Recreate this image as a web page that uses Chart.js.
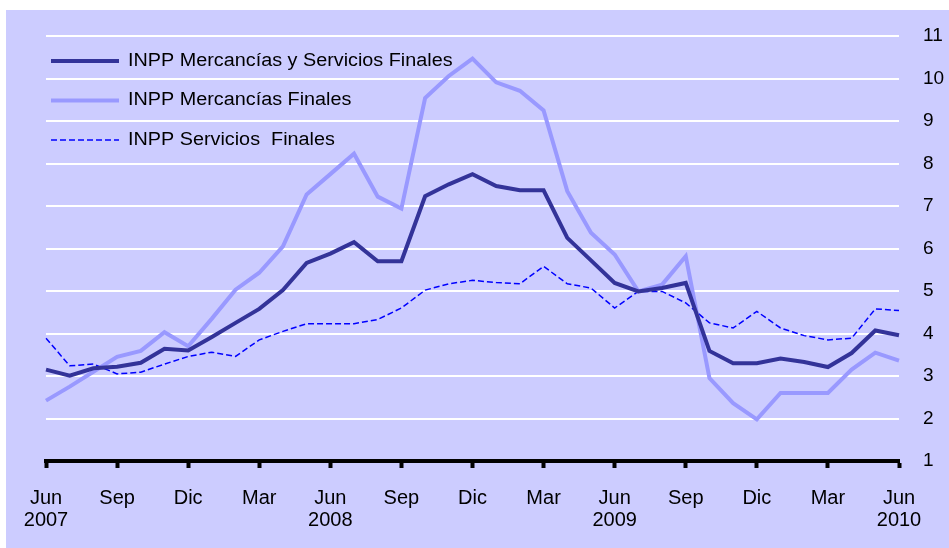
<!DOCTYPE html>
<html>
<head>
<meta charset="utf-8">
<script src="https://cdn.jsdelivr.net/npm/chart.js@4/dist/chart.umd.min.js"></script>
<style>
  html, body { margin: 0; padding: 0; background: #ffffff; }
  #wrap { position: absolute; left: 6px; top: 10px; width: 943px; height: 538px; background: #CCCCFF; }
  canvas { display: block; }
</style>
</head>
<body>
<div id="wrap"><canvas id="c" width="943" height="538"></canvas></div>
<script>
// Monthly categories Jun 2007 .. Jun 2010
const months = [
  ["Jun","2007"],"Jul","Ago",["Sep"],"Oct","Nov",["Dic"],"Ene","Feb",["Mar"],"Abr","May",
  ["Jun","2008"],"Jul","Ago",["Sep"],"Oct","Nov",["Dic"],"Ene","Feb",["Mar"],"Abr","May",
  ["Jun","2009"],"Jul","Ago",["Sep"],"Oct","Nov",["Dic"],"Ene","Feb",["Mar"],"Abr","May",
  ["Jun","2010"]
];

const seriesNames = [
  "INPP Mercancías y Servicios Finales",
  "INPP Mercancías Finales",
  "INPP Servicios  Finales"
];

const mercServ = [
  3.15, 3.01, 3.18, 3.22, 3.31, 3.64, 3.60, 3.92, 4.25, 4.58, 5.02, 5.66,
  5.88, 6.15, 5.70, 5.70, 7.23, 7.51, 7.75, 7.47, 7.37, 7.37, 6.25, 5.72,
  5.19, 4.99, 5.07, 5.19, 3.59, 3.30, 3.30, 3.41, 3.33, 3.21, 3.54, 4.07,
  3.96
];

const merc = [
  2.42, 2.75, 3.10, 3.45, 3.59, 4.03, 3.70, 4.35, 5.03, 5.43, 6.05, 7.27,
  7.75, 8.23, 7.22, 6.94, 9.54, 10.06, 10.47, 9.91, 9.71, 9.25, 7.35, 6.37,
  5.86, 4.99, 5.15, 5.82, 2.95, 2.36, 1.98, 2.60, 2.60, 2.60, 3.15, 3.55,
  3.36
];

const serv = [
  3.89, 3.24, 3.28, 3.05, 3.09, 3.28, 3.46, 3.56, 3.46, 3.85, 4.05, 4.23,
  4.23, 4.23, 4.33, 4.60, 5.02, 5.17, 5.25, 5.20, 5.17, 5.58, 5.17, 5.07,
  4.60, 4.99, 4.99, 4.72, 4.25, 4.13, 4.52, 4.13, 3.95, 3.85, 3.89, 4.58,
  4.54
];

const yTicks = [1,2,3,4,5,6,7,8,9,10,11];

const colors = ["#333399", "#9999FF", "#0000FF"];

const legendPlugin = {
  id: 'insideLegend',
  afterDatasetsDraw(chart) {
    const ctx = chart.ctx;
    const a = chart.chartArea;
    ctx.save();
    ctx.font = '18px "Liberation Sans", Arial, sans-serif';
    ctx.textBaseline = 'middle';
    ctx.fillStyle = '#000000';
    chart.data.datasets.forEach((ds, i) => {
      const y = a.top + 25 + i * 39.5;
      const x0 = a.left + 5;
      ctx.beginPath();
      ctx.strokeStyle = ds.borderColor;
      ctx.lineWidth = ds.borderWidth;
      ctx.setLineDash(ds.borderDash || []);
      ctx.moveTo(x0, y);
      ctx.lineTo(x0 + 68, y);
      ctx.stroke();
      ctx.setLineDash([]);
      ctx.save();
      ctx.translate(x0 + 77, y);
      ctx.scale(1.1, 1);
      ctx.fillText(ds.label, 0, 0);
      ctx.restore();
    });
    ctx.restore();
  }
};

new Chart(document.getElementById('c'), {
  type: 'line',
  data: {
    labels: months,
    datasets: [
      { label: seriesNames[0], data: mercServ, borderColor: colors[0], borderWidth: 4, pointRadius: 0, tension: 0, fill: false },
      { label: seriesNames[1], data: merc, borderColor: colors[1], borderWidth: 4, pointRadius: 0, tension: 0, fill: false },
      { label: seriesNames[2], data: serv, borderColor: colors[2], borderWidth: 1.5, borderDash: [6, 3], pointRadius: 0, tension: 0, fill: false }
    ]
  },
  options: {
    responsive: false,
    animation: false,
    layout: { padding: { left: 40, top: 26, right: 0, bottom: 0 } },
    plugins: { legend: { display: false }, tooltip: { enabled: false } },
    scales: {
      x: {
        type: 'category',
        offset: false,
        border: { display: true, color: '#000000', width: 4 },
        grid: {
          drawOnChartArea: false,
          drawTicks: true,
          tickLength: 7,
          tickWidth: 4,
          tickColor: (c) => (c.index % 3 === 0 ? '#000000' : 'rgba(0,0,0,0)')
        },
        ticks: {
          autoSkip: false,
          maxRotation: 0,
          minRotation: 0,
          padding: 19,
          color: '#000000',
          font: { family: '"Liberation Sans", Arial, sans-serif', size: 20, lineHeight: 1.1 },
          callback: function(v, i) { return i % 3 === 0 ? this.getLabelForValue(v) : ''; }
        },
        afterFit: (s) => { s.height = 87; s.paddingLeft = 0; s.paddingRight = 0; }
      },
      y: {
        position: 'right',
        min: 1,
        max: 11,
        afterBuildTicks: (s) => { s.ticks = yTicks.map(v => ({ value: v })); },
        border: { display: false },
        grid: { color: '#FFFFFF', lineWidth: 2, drawTicks: false },
        ticks: {
          padding: 24,
          color: '#000000',
          font: { family: '"Liberation Sans", Arial, sans-serif', size: 19 }
        },
        afterFit: (s) => { s.width = 50; s.paddingTop = 0; s.paddingBottom = 0; }
      }
    }
  },
  plugins: [legendPlugin]
});
</script>
</body>
</html>
